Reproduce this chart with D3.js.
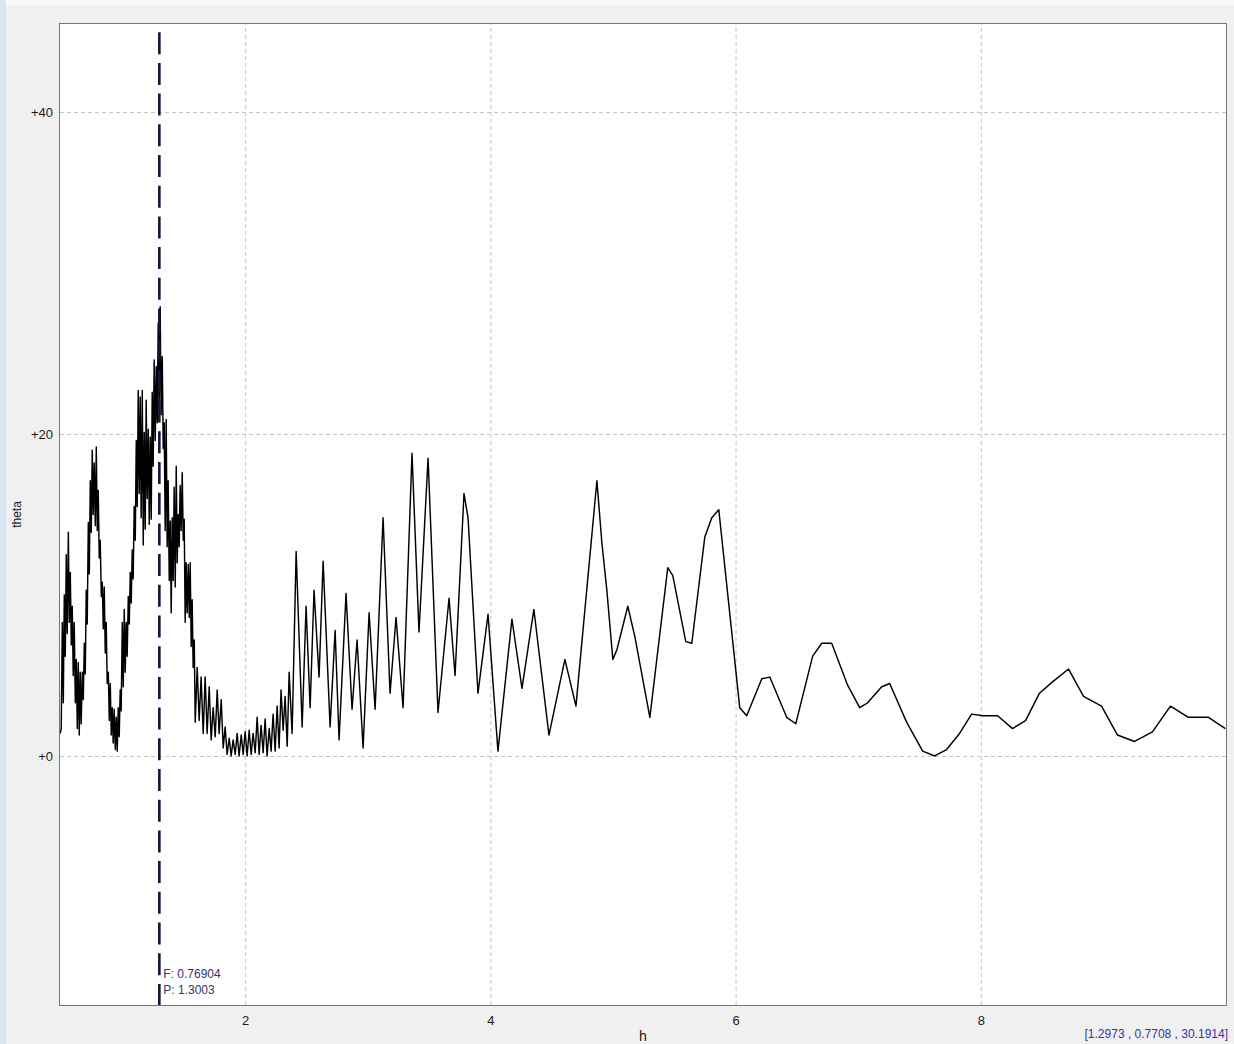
<!DOCTYPE html>
<html>
<head>
<meta charset="utf-8">
<script src="https://cdn.jsdelivr.net/npm/d3@7"></script>
<style>
    body { margin: 0; background: #f0f0f0; }
    .grid line { stroke: #c4c4c4; stroke-dasharray: 4,3; }
    .grid path { display: none; }
    .axis path { display: none; }
    .axis text { font-family: "Liberation Sans", Arial, sans-serif; font-size: 13px; fill: #1a1a1a; }
</style>
</head>
<body>
<div id="chart"></div>
<script>
// period (h) and theta values
var periodShort = [
    0.492,0.500,0.509,0.517,0.525,0.533,0.541,0.549,0.558,0.566,
    0.574,0.582,0.590,0.598,0.606,0.615,0.623,0.631,0.639,0.647,
    0.655,0.663,0.672,0.680,0.688,0.696,0.704,0.712,0.721,0.729,
    0.737,0.745,0.753,0.761,0.769,0.778,0.786,0.794,0.802,0.810,
    0.818,0.827,0.835,0.843,0.851,0.859,0.867,0.875,0.884,0.892,
    0.900,0.908,0.916,0.924,0.932,0.941,0.949,0.957,0.965,0.973,
    0.981,0.989,0.998,1.006,1.014,1.022,1.030,1.038,1.047,1.055,
    1.063,1.071,1.079,1.087,1.095,1.104,1.112,1.120,1.128,1.136,
    1.144,1.152,1.161,1.169,1.177,1.185,1.193,1.201,1.210,1.218,
    1.226,1.234,1.242,1.250,1.258,1.267,1.275,1.283,1.291,1.299,
    1.307,1.315,1.324,1.332,1.340,1.348,1.356,1.364,1.372,1.381,
    1.389,1.397,1.405,1.413,1.421,1.430,1.438,1.446,1.454,1.462,
    1.470,1.478,1.487,1.495,1.503,1.511,1.519,1.527,1.536,1.544,
    1.552,1.560,1.568,1.576,1.585,1.593,
    1.609,1.625,1.641,1.658,1.674,1.690,1.707,1.723,1.739,1.756,
    1.772,1.788,1.805,1.821,1.837,1.853,1.870,1.886,1.902,1.919,
    1.935,1.951,1.968,1.984,2.000,2.016,2.033,2.049,2.065,2.082,
    2.098,2.114,2.130,2.147,2.163,2.179,2.196,2.212,2.228,2.245,
    2.261,2.277,2.293,2.310,2.326,2.343,2.359,2.383,2.416,2.465
];
var thetaShort = [
    1.4,1.7,8.3,3.3,10.0,6.2,12.5,7.6,13.9,8.3,
    11.4,6.9,9.3,5.0,8.3,3.3,6.0,1.7,5.8,1.3,
    5.2,2.0,5.2,3.5,7.0,5.1,10.3,8.2,14.5,11.3,
    17.1,13.9,19.0,15.0,18.2,14.3,19.2,14.0,16.5,12.3,
    13.4,9.9,10.8,7.9,10.5,6.4,8.3,4.5,5.2,2.2,
    4.5,1.3,3.0,0.8,2.9,0.4,2.4,0.3,3.0,1.2,
    4.1,2.8,8.3,4.3,9.1,5.2,8.3,6.2,9.9,8.2,
    11.4,9.5,12.8,11.0,15.5,13.4,19.6,15.5,22.7,16.3,
    22.3,14.8,22.7,13.1,20.1,14.1,22.1,16.0,20.3,14.4,
    19.8,14.7,22.6,18.0,24.6,19.6,24.2,20.7,26.9,21.9,
    27.9,21.2,24.8,19.1,20.7,14.0,20.9,13.0,17.1,10.9,
    14.6,8.9,14.8,10.9,16.7,10.5,18.0,12.0,15.0,13.0,
    16.8,14.0,17.6,13.4,14.7,8.3,12.0,8.9,11.9,8.6,
    12.0,6.8,9.7,5.5,7.2,2.1,
    5.5,2.2,4.9,1.4,4.9,1.4,4.3,1.0,3.0,1.2,
    4.1,1.4,3.5,0.5,1.8,0.1,1.1,0.0,1.0,0.1,
    1.4,0.0,1.3,0.1,1.5,0.0,1.6,0.1,1.4,0.2,
    2.4,0.1,1.9,0.2,2.3,0.0,1.7,0.3,2.6,0.3,
    3.1,0.5,4.1,1.6,3.7,0.6,5.2,1.4,12.7,1.8
];
var periodLong = [
    2.497,2.530,2.562,2.603,2.636,2.693,2.734,2.766,2.823,2.872,
    2.913,2.962,3.011,3.060,3.125,3.182,3.231,3.288,3.361,3.418,
    3.492,3.573,3.663,3.712,3.785,3.818,3.899,3.981,4.062,4.176,
    4.258,4.355,4.478,4.608,4.698,4.869,4.910,4.950,4.999,5.032,
    5.121,5.179,5.301,5.447,5.488,5.594,5.643,5.749,5.806,5.863,
    6.034,6.091,6.214,6.279,6.417,6.491,6.629,6.703,6.784,6.914,
    7.012,7.077,7.192,7.257,7.395,7.526,7.624,7.721,7.827,7.925,
    8.015,8.137,8.259,8.365,8.479,8.585,8.716,8.838,8.985,9.115,
    9.254,9.400,9.547,9.693,9.857,9.995
];
var thetaLong = [
    9.3,3.0,10.3,4.9,12.1,1.8,7.8,1.0,10.1,2.9,
    7.2,0.5,8.9,2.9,14.8,3.9,8.6,3.0,18.8,7.7,
    18.5,2.7,9.8,5.0,16.3,14.8,3.9,8.8,0.3,8.5,
    4.2,9.1,1.3,6.0,3.1,17.1,13.2,10.3,6.0,6.6,
    9.3,7.4,2.4,11.7,11.2,7.1,7.0,13.6,14.8,15.3,
    3.0,2.5,4.8,4.9,2.4,2.0,6.2,7.0,7.0,4.4,
    3.0,3.3,4.3,4.5,2.1,0.3,0.0,0.4,1.4,2.6,
    2.5,2.5,1.7,2.2,3.9,4.6,5.4,3.7,3.1,1.3,
    0.9,1.5,3.1,2.4,2.4,1.7
];

var xTicks = [2, 4, 6, 8];
var yTicks = [0, 20, 40];
var markerF = "0.76904", markerP = 1.3003;
var readout = ["1.2973", "0.7708", "30.1914"];

var series = d3.zip(periodShort.concat(periodLong), thetaShort.concat(thetaLong));

var margin = { top: 24, right: 8, bottom: 39, left: 60 },
    width = 1234 - margin.left - margin.right,
    height = 1044 - margin.top - margin.bottom;

var svg = d3.select("#chart").append("svg")
    .attr("width", 1234)
    .attr("height", 1044)
    .style("display", "block");

// window edges
svg.append("rect").attr("x", 0).attr("y", 0).attr("width", 1234).attr("height", 1044).attr("fill", "#f0f0f0");
svg.append("rect").attr("x", 0).attr("y", 0).attr("width", 1234).attr("height", 5).attr("fill", "#fafafa");
svg.append("rect").attr("x", 0).attr("y", 0).attr("width", 6).attr("height", 1044).attr("fill", "#d9e5f2");

var canvas = svg.append("g")
    .attr("transform", "translate(" + margin.left + "," + margin.top + ")");

var xScale = d3.scaleLinear()
    .domain([0.49, 10])
    .range([0, width]);

var yScale = d3.scaleLinear()
    .domain([-15.47, 45.47])
    .range([height, 0]);

canvas.append("rect")
    .attr("width", width)
    .attr("height", height)
    .attr("fill", "#ffffff");

canvas.append("g")
    .attr("class", "grid")
    .attr("transform", "translate(0," + height + ")")
    .call(d3.axisBottom(xScale).tickValues(xTicks).tickSize(-height).tickFormat(""));

canvas.append("g")
    .attr("class", "grid")
    .call(d3.axisLeft(yScale).tickValues(yTicks).tickSize(-width).tickFormat(""));

canvas.append("clipPath").attr("id", "plotclip")
    .append("rect").attr("width", width).attr("height", height);

var line = d3.line()
    .x(function (d) { return xScale(d[0]); })
    .y(function (d) { return yScale(d[1]); });

canvas.append("path")
    .datum(series)
    .attr("clip-path", "url(#plotclip)")
    .attr("fill", "none")
    .attr("stroke", "#000")
    .attr("stroke-width", 1.45)
    .attr("stroke-linejoin", "round")
    .attr("d", line);

// marker line
canvas.append("line")
    .attr("x1", xScale(markerP)).attr("x2", xScale(markerP))
    .attr("y1", 0).attr("y2", height)
    .attr("stroke", "#14143a")
    .attr("stroke-width", 2.6)
    .attr("stroke-dasharray", "22,8.7")
    .attr("stroke-dashoffset", 22.5);

canvas.append("text")
    .attr("x", xScale(markerP) + 4)
    .attr("y", height - 27)
    .style("font-family", "Liberation Sans, Arial, sans-serif")
    .style("font-size", "12px")
    .attr("fill", "#34346a")
    .text("F: " + markerF);

canvas.append("text")
    .attr("x", xScale(markerP) + 4)
    .attr("y", height - 11)
    .style("font-family", "Liberation Sans, Arial, sans-serif")
    .style("font-size", "12px")
    .attr("fill", "#34346a")
    .text("P: " + markerP);

canvas.append("rect")
    .attr("x", -0.5).attr("y", -0.5)
    .attr("width", width + 1).attr("height", height + 1)
    .attr("fill", "none")
    .attr("stroke", "#767676");

canvas.append("g")
    .attr("class", "axis")
    .attr("transform", "translate(0," + height + ")")
    .call(d3.axisBottom(xScale).tickValues(xTicks).tickSize(0).tickPadding(11));

canvas.append("g")
    .attr("class", "axis")
    .call(d3.axisLeft(yScale).tickValues(yTicks).tickSize(0).tickPadding(7)
        .tickFormat(function (d) { return "+" + d; }));

canvas.append("text")
    .attr("transform", "translate(-39," + (height / 2) + ") rotate(-90)")
    .attr("text-anchor", "middle")
    .style("font-family", "Liberation Sans, Arial, sans-serif")
    .style("font-size", "12px")
    .attr("fill", "#1a1a1a")
    .text("theta");

canvas.append("text")
    .attr("x", width / 2)
    .attr("y", height + 36)
    .attr("text-anchor", "middle")
    .style("font-family", "Liberation Mono, Courier New, monospace")
    .style("font-size", "14px")
    .attr("fill", "#1a1a1a")
    .text("h");

svg.append("text")
    .attr("x", 1228)
    .attr("y", 1038)
    .attr("text-anchor", "end")
    .style("font-family", "Liberation Sans, Arial, sans-serif")
    .style("font-size", "12px")
    .attr("fill", "#3535a8")
    .text("[" + readout.join(" , ") + "]");
</script>
</body>
</html>
